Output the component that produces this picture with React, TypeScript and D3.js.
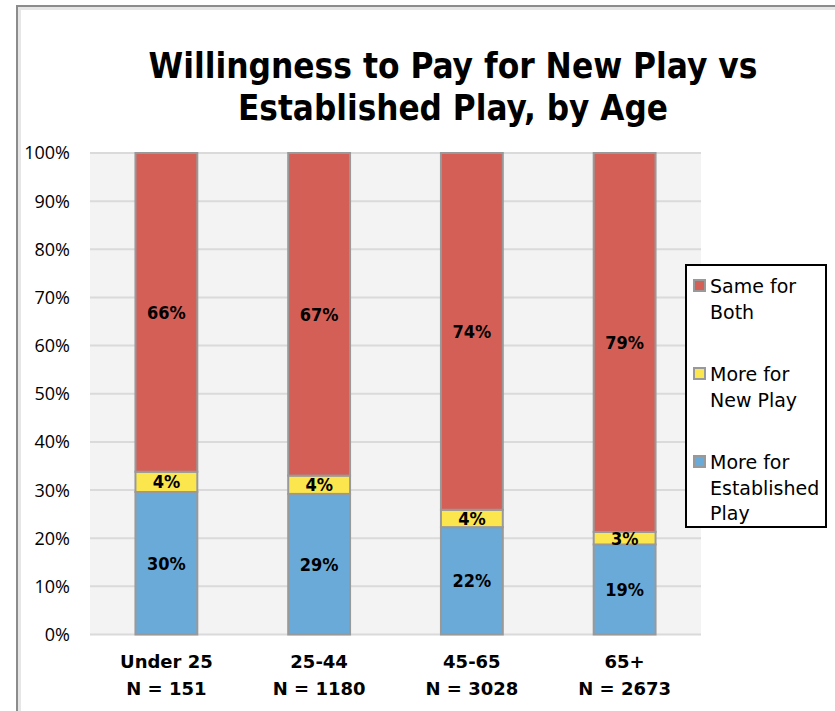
/**
 * Willingness to pay — 100% stacked bars by age group, drawn with D3.
 */
import { useEffect, useRef } from 'react';
import * as d3 from 'd3';

const ageGroups = ['Under 25', '25-44', '45-65', '65+'];
const sampleSizes = ['N = 151', 'N = 1180', 'N = 3028', 'N = 2673'];

const seriesNames = ['More for Established Play', 'More for New Play', 'Same for Both'];
const establishedPlay = [29.6, 29.2, 22.3, 18.7];
const newPlay = [4.2, 3.8, 3.6, 2.6];
const sameForBoth = [66.2, 67.0, 74.1, 78.7];

const yTicks = [0, 10, 20, 30, 40, 50, 60, 70, 80, 90, 100];

const legendLines = [
  ['Same for', 'Both'],
  ['More for', 'New Play'],
  ['More for', 'Established', 'Play'],
];

const colors = ['#6aaad9', '#fce64e', '#d45f56'];

export default function App() {
  const svgRef = useRef<SVGSVGElement>(null);

  useEffect(() => {
    if (!svgRef.current) return;
    const svg = d3.select(svgRef.current);
    svg.selectAll('*').remove();

    const width = 835;
    const height = 711;
    const plot = { left: 90, right: 701, top: 153, bottom: 634.5 };

    // outer frame
    svg.append('rect').attr('width', width).attr('height', height).attr('fill', '#fff');
    svg.append('path')
      .attr('d', `M17,${height} V6 H${width}`)
      .attr('fill', 'none').attr('stroke', '#8c8c8c').attr('stroke-width', 2);
    svg.append('path')
      .attr('d', `M19.5,${height} V8.5 H${width}`)
      .attr('fill', 'none').attr('stroke', '#e6e6e6').attr('stroke-width', 3);

    // title
    const titleLines = [
      { text: 'Willingness to Pay for New Play vs', y: 78, len: 609 },
      { text: 'Established Play, by Age', y: 120, len: 430 },
    ];
    titleLines.forEach((l) => {
      svg.append('text')
        .attr('x', 453).attr('y', l.y)
        .attr('text-anchor', 'middle')
        .attr('font-family', '"DejaVu Sans Condensed", "DejaVu Sans", sans-serif')
        .attr('font-weight', 'bold')
        .attr('font-size', 35)
        .attr('textLength', l.len)
        .attr('lengthAdjust', 'spacingAndGlyphs')
        .attr('fill', '#000')
        .text(l.text);
    });

    const x = d3.scaleBand().domain(ageGroups).range([plot.left, plot.right]).paddingInner(0.595).paddingOuter(0.2975);
    const y = d3.scaleLinear().domain([0, 100]).range([plot.bottom, plot.top]);

    // plot background
    svg.append('rect')
      .attr('x', plot.left).attr('y', plot.top)
      .attr('width', plot.right - plot.left).attr('height', plot.bottom - plot.top)
      .attr('fill', '#f3f3f3');

    // grid
    svg.append('g').selectAll('line').data(yTicks).enter().append('line')
      .attr('x1', plot.left).attr('x2', plot.right)
      .attr('y1', (d) => y(d)).attr('y2', (d) => y(d))
      .attr('stroke', '#dadada').attr('stroke-width', 2);

    // y labels
    svg.append('g').selectAll('text').data(yTicks).enter().append('text')
      .attr('x', 70).attr('y', (d) => y(d))
      .attr('dy', '0.36em')
      .attr('text-anchor', 'end')
      .attr('font-family', '"Open Sans", sans-serif')
      .attr('font-size', 18)
      .attr('fill', '#000')
      .text((d) => `${d}%`);

    // stacked data
    const rows = ageGroups.map((g, i) => ({
      group: g,
      s0: establishedPlay[i],
      s1: newPlay[i],
      s2: sameForBoth[i],
    }));
    const stack = d3.stack<typeof rows[0]>().keys(['s0', 's1', 's2']);
    const layers = stack(rows);

    const bw = x.bandwidth();
    layers.forEach((layer, li) => {
      const g = svg.append('g');
      g.selectAll('rect').data(layer).enter().append('rect')
        .attr('x', (d) => x(d.data.group) ?? 0)
        .attr('y', (d) => y(d[1]))
        .attr('width', bw)
        .attr('height', (d) => y(d[0]) - y(d[1]))
        .attr('fill', colors[li])
        .attr('stroke', '#999')
        .attr('stroke-width', 2);
    });

    layers.forEach((layer) => {
      svg.append('g').selectAll('text').data(layer).enter().append('text')
        .attr('x', (d) => (x(d.data.group) ?? 0) + bw / 2)
        .attr('y', (d) => (y(d[0]) + y(d[1])) / 2)
        .attr('dy', '0.36em')
        .attr('text-anchor', 'middle')
        .attr('font-family', '"DejaVu Sans Condensed", "DejaVu Sans", sans-serif')
        .attr('font-weight', 'bold')
        .attr('font-size', 18)
        .attr('fill', '#000')
        .text((d) => `${Math.round(d[1] - d[0])}%`);
    });

    // x labels
    const xl = svg.append('g').selectAll('text').data(ageGroups).enter().append('text')
      .attr('text-anchor', 'middle')
      .attr('font-family', '"DejaVu Sans", sans-serif')
      .attr('font-weight', 'bold')
      .attr('font-size', 18)
      .attr('fill', '#000');
    xl.append('tspan')
      .attr('x', (d) => (x(d) ?? 0) + bw / 2).attr('y', 668)
      .text((d) => d);
    xl.append('tspan')
      .attr('x', (d) => (x(d) ?? 0) + bw / 2).attr('y', 695)
      .text((_, i) => sampleSizes[i]);

    // legend
    const legend = svg.append('g');
    legend.append('rect')
      .attr('x', 686).attr('y', 265).attr('width', 140).attr('height', 262)
      .attr('fill', '#fff').attr('stroke', '#000').attr('stroke-width', 2);
    const order = [2, 1, 0];
    order.forEach((si, k) => {
      const top = 280 + k * 88;
      legend.append('rect')
        .attr('x', 694).attr('y', top).attr('width', 11).attr('height', 11)
        .attr('fill', colors[si]).attr('stroke', '#999').attr('stroke-width', 2)
        .append('title').text(seriesNames[si]);
      const t = legend.append('text')
        .attr('font-family', '"DejaVu Sans", sans-serif')
        .attr('font-size', 19)
        .attr('fill', '#000');
      legendLines[k].forEach((line, j) => {
        t.append('tspan').attr('x', 710).attr('y', top + 13 + j * 25.5).text(line);
      });
    });
  }, []);

  return (
    <svg
      ref={svgRef}
      width={835}
      height={711}
      style={{ position: 'absolute', left: 0, top: 0, display: 'block' }}
    />
  );
}
